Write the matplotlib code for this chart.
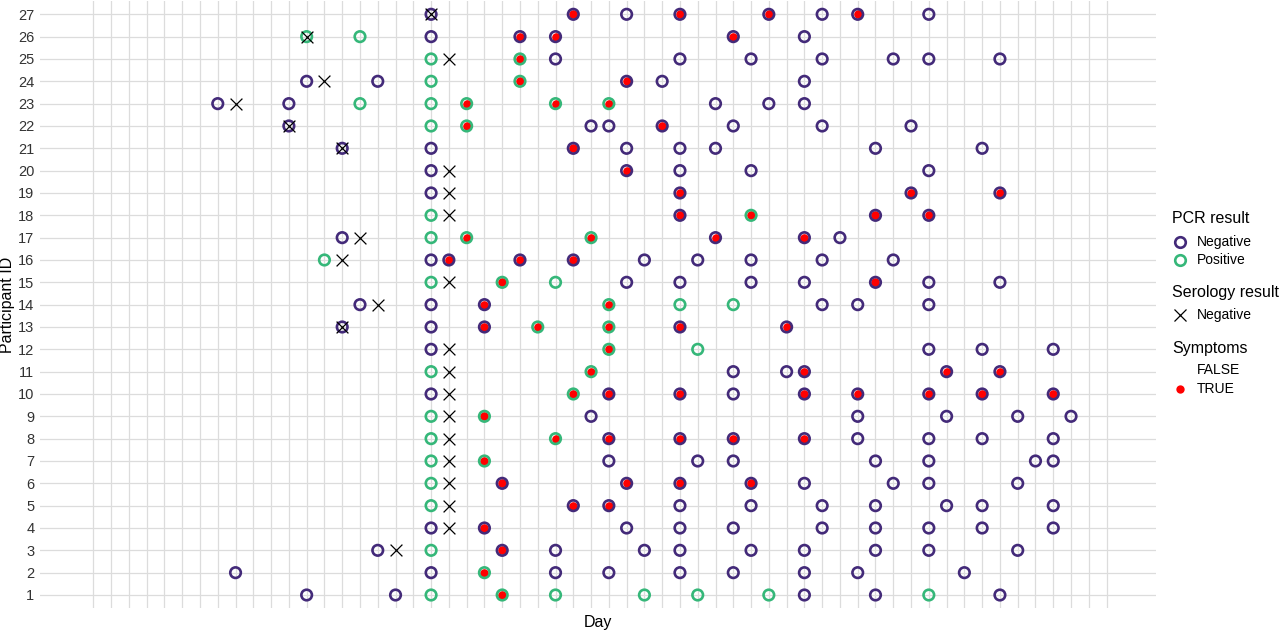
import matplotlib
matplotlib.use("Agg")
import matplotlib.pyplot as plt
from matplotlib.lines import Line2D
import numpy as np

plt.rcParams["font.family"] = ["Liberation Sans", "DejaVu Sans"]

# PCR tests per participant (index 0 -> participant 1), day relative to enrolment
pcr_days = [
    [-7, -2, 0, 4, 7, 12, 15, 19, 21, 25, 28, 32],
    [-11, 0, 3, 7, 10, 14, 17, 21, 24, 30],
    [-3, 0, 4, 7, 12, 14, 18, 21, 25, 28, 33],
    [0, 3, 11, 14, 17, 22, 25, 28, 31, 35],
    [0, 8, 10, 14, 18, 22, 25, 29, 31, 35],
    [0, 4, 11, 14, 18, 21, 26, 28, 33],
    [0, 3, 10, 15, 17, 25, 28, 34, 35],
    [0, 7, 10, 14, 17, 21, 24, 28, 31, 35],
    [0, 3, 9, 24, 29, 33, 36],
    [0, 8, 10, 14, 17, 21, 24, 28, 31, 35],
    [0, 9, 17, 20, 21, 29, 32],
    [0, 10, 15, 28, 31, 35],
    [-5, 0, 3, 6, 10, 14, 20],
    [-4, 0, 3, 10, 14, 17, 22, 24, 28],
    [0, 4, 7, 11, 14, 18, 21, 25, 28, 32],
    [-6, 0, 1, 5, 8, 12, 15, 18, 22, 26],
    [-5, 0, 2, 9, 16, 21, 23],
    [0, 14, 18, 25, 28],
    [0, 14, 27, 32],
    [0, 11, 14, 18, 28],
    [-5, 0, 8, 11, 14, 16, 25, 31],
    [-8, 0, 2, 9, 10, 13, 17, 22, 27],
    [-12, -8, -4, 0, 2, 7, 10, 16, 19, 21],
    [-7, -3, 0, 5, 11, 13, 21],
    [0, 5, 7, 14, 18, 22, 26, 28, 32],
    [-7, -4, 0, 5, 7, 17, 21],
    [0, 8, 11, 14, 19, 22, 24, 28],
]

# P = positive, N = negative
pcr_results = [
    "NNPPPPPPNNPN", "NNPNNNNNNN", "NPNNNNNNNNN", "NNNNNNNNNN", "PNNNNNNNNN",
    "PNNNNNNNN", "PPNNNNNNN", "PPNNNNNNNN", "PPNNNNN", "NPNNNNNNNN",
    "PPNNNNN", "NPPNNN", "NNNPPNN", "NNNPPPNNN", "PPPNNNNNNN",
    "PNNNNNNNNN", "NPPPNNN", "PNPNN", "NNNN", "NNNNN",
    "NNNNNNNN", "NPPNNNNNN", "NNPPPPPNNN", "NNPPNNN", "PPNNNNNNN",
    "PPNNNNN", "NNNNNNNN",
]

# T = symptoms at that visit
symptoms = [
    "FFFTFFFFFFFF", "FFTFFFFFFF", "FFTFFFFFFFF", "FTFFFFFFFF", "FTTFFFFFFF",
    "FTTTTFFFF", "FTFFFFFFF", "FTTTTTFFFF", "FTFFFFF", "FTTTFTTTTT",
    "FTFFTTT", "FTFFFF", "FFTTTTT", "FFTTFFFFF", "FTFFFFFTFF",
    "FFTTTFFFFF", "FFTTTTF", "FTTTT", "FTTT", "FTFFF",
    "FFTFFFFF", "FFTFFTFFF", "FFFFTTTFFF", "FFFTTFF", "FTFFFFFFF",
    "FFFTTTF", "FTFTTFTF",
]

# negative serology day per participant (None = no test)
serology_neg_day = [None, None, -2, 1, 1, 1, 1, 1, 1, 1, 1, 1, -5, -3, 1,
                    -5, -4, 1, 1, 1, -5, -8, -11, -6, 1, -7, 0]

grid_days = np.arange(-19, 39)

purple = "#432a79"
green = "#35b779"
red = "#ff0000"


def main():
    fig = plt.figure(figsize=(12.8, 6.32), dpi=100)
    ax = fig.add_axes([40 / 1280, 1 - 608.4 / 632, 1116 / 1280, 607.5 / 632])

    xs, ys, cols, sx, sy = [], [], [], [], []
    for i, days in enumerate(pcr_days):
        pid = i + 1
        for d, r, s in zip(days, pcr_results[i], symptoms[i]):
            xs.append(d)
            ys.append(pid)
            cols.append(green if r == "P" else purple)
            if s == "T":
                sx.append(d)
                sy.append(pid)

    ax.scatter(sx, sy, s=6.2**2, color=red, linewidths=0, zorder=3)
    ax.scatter(xs, ys, s=7.6**2, facecolors="none", edgecolors=cols,
               linewidths=1.9, zorder=4)

    ser_x = [d for d in serology_neg_day if d is not None]
    ser_y = [i + 1 for i, d in enumerate(serology_neg_day) if d is not None]
    ax.scatter(ser_x, ser_y, s=8.5**2, marker="x", color="black",
               linewidths=0.9, zorder=5)

    ax.set_xlim(-22.0, 40.78)
    ax.set_ylim(0.4, 27.6)
    ax.set_xticks(grid_days)
    ax.set_xticklabels([])
    ax.set_yticks(range(1, 28))
    ax.set_yticklabels([str(v) for v in range(1, 28)], fontsize=10.5, color="#333333")
    ax.tick_params(length=0, pad=4)
    ax.grid(True, color="#dcdcdc", linewidth=0.9)
    ax.set_axisbelow(True)
    for sp in ax.spines.values():
        sp.set_visible(False)
    ax.set_xlabel("Day", fontsize=11.5)
    ax.xaxis.set_label_coords(0.5, -(622 - 608.4) / 607.5)
    ax.xaxis.label.set_va("center")
    ax.set_ylabel("Participant ID", fontsize=11.5)
    ax.yaxis.set_label_coords(-(40 - 8) / 1116, 0.5)
    ax.yaxis.label.set_va("center")

    # legends drawn by hand to mimic the stacked layout
    def fy(py):
        return 1 - py / 632

    kx = 1180 / 1280
    tx = 1197 / 1280
    hx = 1172 / 1280
    fig.text(hx, fy(218), "PCR result", fontsize=11.5, va="center", ha="left")
    fig.add_artist(Line2D([kx], [fy(242)], marker="o", ms=7.6, mfc="none", mec=purple,
                          mew=1.9, transform=fig.transFigure))
    fig.text(tx, fy(242), "Negative", fontsize=10, va="center")
    fig.add_artist(Line2D([kx], [fy(260)], marker="o", ms=7.6, mfc="none", mec=green,
                          mew=1.9, transform=fig.transFigure))
    fig.text(tx, fy(260), "Positive", fontsize=10, va="center")

    fig.text(hx, fy(293), "Serology result", fontsize=11.5, va="center", ha="left")
    fig.add_artist(Line2D([kx], [fy(315)], marker="x", ms=8.5, color="black",
                          mew=0.9, transform=fig.transFigure))
    fig.text(tx, fy(315), "Negative", fontsize=10, va="center")

    fig.text(hx, fy(349), "Symptoms", fontsize=11.5, va="center", ha="left")
    fig.text(tx, fy(370), "FALSE", fontsize=10, va="center")
    fig.add_artist(Line2D([kx], [fy(389)], marker="o", ms=6, color=red, mew=0,
                          transform=fig.transFigure))
    fig.text(tx, fy(389), "TRUE", fontsize=10, va="center")

    fig.savefig("out.png", dpi=100)


if __name__ == "__main__":
    main()
